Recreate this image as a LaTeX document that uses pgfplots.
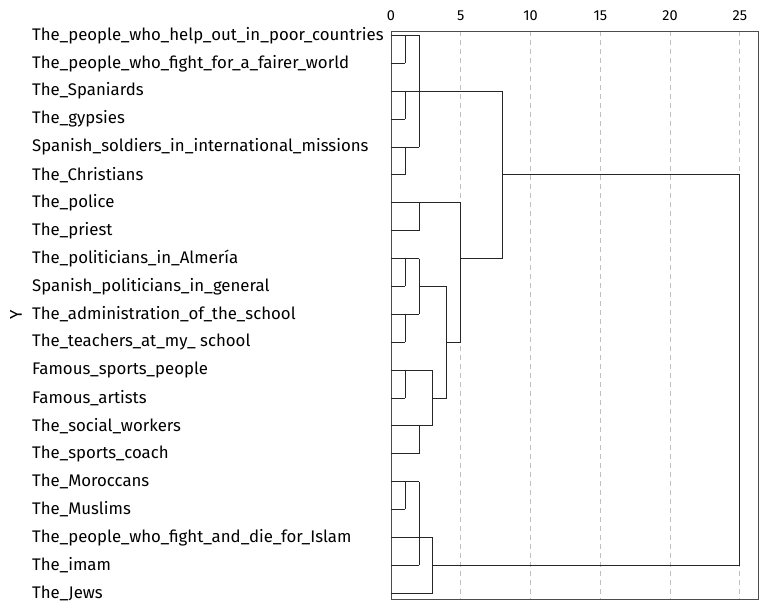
\documentclass[border=0pt]{standalone}
\usepackage{fontspec}
\setmainfont{Fira Sans}
\usepackage{pgfplots}
\pgfplotsset{compat=1.18}
\begin{document}
\begin{tikzpicture}
\begin{axis}[
  name=a,
  scale only axis,
  width=367pt, height=568pt,
  xmin=0, xmax=26.3,
  ymin=-0.16, ymax=20.21,
  y dir=reverse,
  axis line style={draw=black!70, line width=0.6pt},
  xtick={0,5,10,15,20,25},
  xticklabel pos=upper,
  xticklabel style={font=\fontsize{14.5}{17}\selectfont, yshift=7pt},
  /pgf/number format/assume math mode=true,
  major tick length=0pt,
  xmajorgrids,
  grid style={draw=black!25, dash pattern=on 5pt off 4pt, line width=0.8pt},
  ytick={0,...,20},
  yticklabels={The\_people\_who\_help\_out\_in\_poor\_countries,
    The\_people\_who\_fight\_for\_a\_fairer\_world,
    The\_Spaniards,
    The\_gypsies,
    Spanish\_soldiers\_in\_international\_missions,
    The\_Christians,
    The\_police,
    The\_priest,
    The\_politicians\_in\_Almería,
    Spanish\_politicians\_in\_general,
    The\_administration\_of\_the\_school,
    The\_teachers\_at\_my\_ school,
    Famous\_sports\_people,
    Famous\_artists,
    The\_social\_workers,
    The\_sports\_coach,
    The\_Moroccans,
    The\_Muslims,
    The\_people\_who\_fight\_and\_die\_for\_Islam,
    The\_imam,
    The\_Jews},
  yticklabel style={font=\fontsize{16.8}{19}\selectfont, anchor=west, inner sep=0pt, xshift=-359pt},
  ylabel={Y},
  every axis y label/.style={at={(axis description cs:-1.022,0.5)}, anchor=center, rotate=90, font=\fontsize{17}{19}\selectfont},
  clip=false,
  seg/.style={draw=black!85, line width=0.8pt, solid, mark=none},
]
% horizontal segments at leaves
\addplot[seg] coordinates {(0,0) (2,0)};
\addplot[seg] coordinates {(0,1) (1,1)};
\addplot[seg] coordinates {(0,2) (8,2)};
\addplot[seg] coordinates {(0,3) (1,3)};
\addplot[seg] coordinates {(0,4) (2,4)};
\addplot[seg] coordinates {(0,5) (1,5)};
\addplot[seg] coordinates {(8,5) (25,5)};
\addplot[seg] coordinates {(0,6) (5,6)};
\addplot[seg] coordinates {(0,7) (2,7)};
\addplot[seg] coordinates {(0,8) (2,8)};
\addplot[seg] coordinates {(5,8) (8,8)};
\addplot[seg] coordinates {(0,9) (1,9)};
\addplot[seg] coordinates {(2,9) (4,9)};
\addplot[seg] coordinates {(0,10) (2,10)};
\addplot[seg] coordinates {(0,11) (1,11)};
\addplot[seg] coordinates {(4,11) (5,11)};
\addplot[seg] coordinates {(0,12) (3,12)};
\addplot[seg] coordinates {(0,13) (1,13)};
\addplot[seg] coordinates {(3,13) (4,13)};
\addplot[seg] coordinates {(0,14) (3,14)};
\addplot[seg] coordinates {(0,15) (2,15)};
\addplot[seg] coordinates {(0,16) (2,16)};
\addplot[seg] coordinates {(0,17) (1,17)};
\addplot[seg] coordinates {(0,18) (3,18)};
\addplot[seg] coordinates {(0,19) (2,19)};
\addplot[seg] coordinates {(3,19) (25,19)};
\addplot[seg] coordinates {(0,20) (3,20)};
% vertical segments
\addplot[seg] coordinates {(1,0) (1,1)};
\addplot[seg] coordinates {(2,0) (2,4)};
\addplot[seg] coordinates {(1,2) (1,3)};
\addplot[seg] coordinates {(1,4) (1,5)};
\addplot[seg] coordinates {(8,2) (8,8)};
\addplot[seg] coordinates {(2,6) (2,7)};
\addplot[seg] coordinates {(5,6) (5,11)};
\addplot[seg] coordinates {(1,8) (1,9)};
\addplot[seg] coordinates {(2,8) (2,10)};
\addplot[seg] coordinates {(1,10) (1,11)};
\addplot[seg] coordinates {(4,9) (4,13)};
\addplot[seg] coordinates {(1,12) (1,13)};
\addplot[seg] coordinates {(3,12) (3,14)};
\addplot[seg] coordinates {(2,14) (2,15)};
\addplot[seg] coordinates {(1,16) (1,17)};
\addplot[seg] coordinates {(2,16) (2,19)};
\addplot[seg] coordinates {(3,18) (3,20)};
\addplot[seg] coordinates {(25,5) (25,19)};
\end{axis}
\pgfresetboundingbox
\path ([xshift=-391pt,yshift=-9pt]a.south west) rectangle ([xshift=5pt,yshift=31pt]a.north east);
\end{tikzpicture}
\end{document}
